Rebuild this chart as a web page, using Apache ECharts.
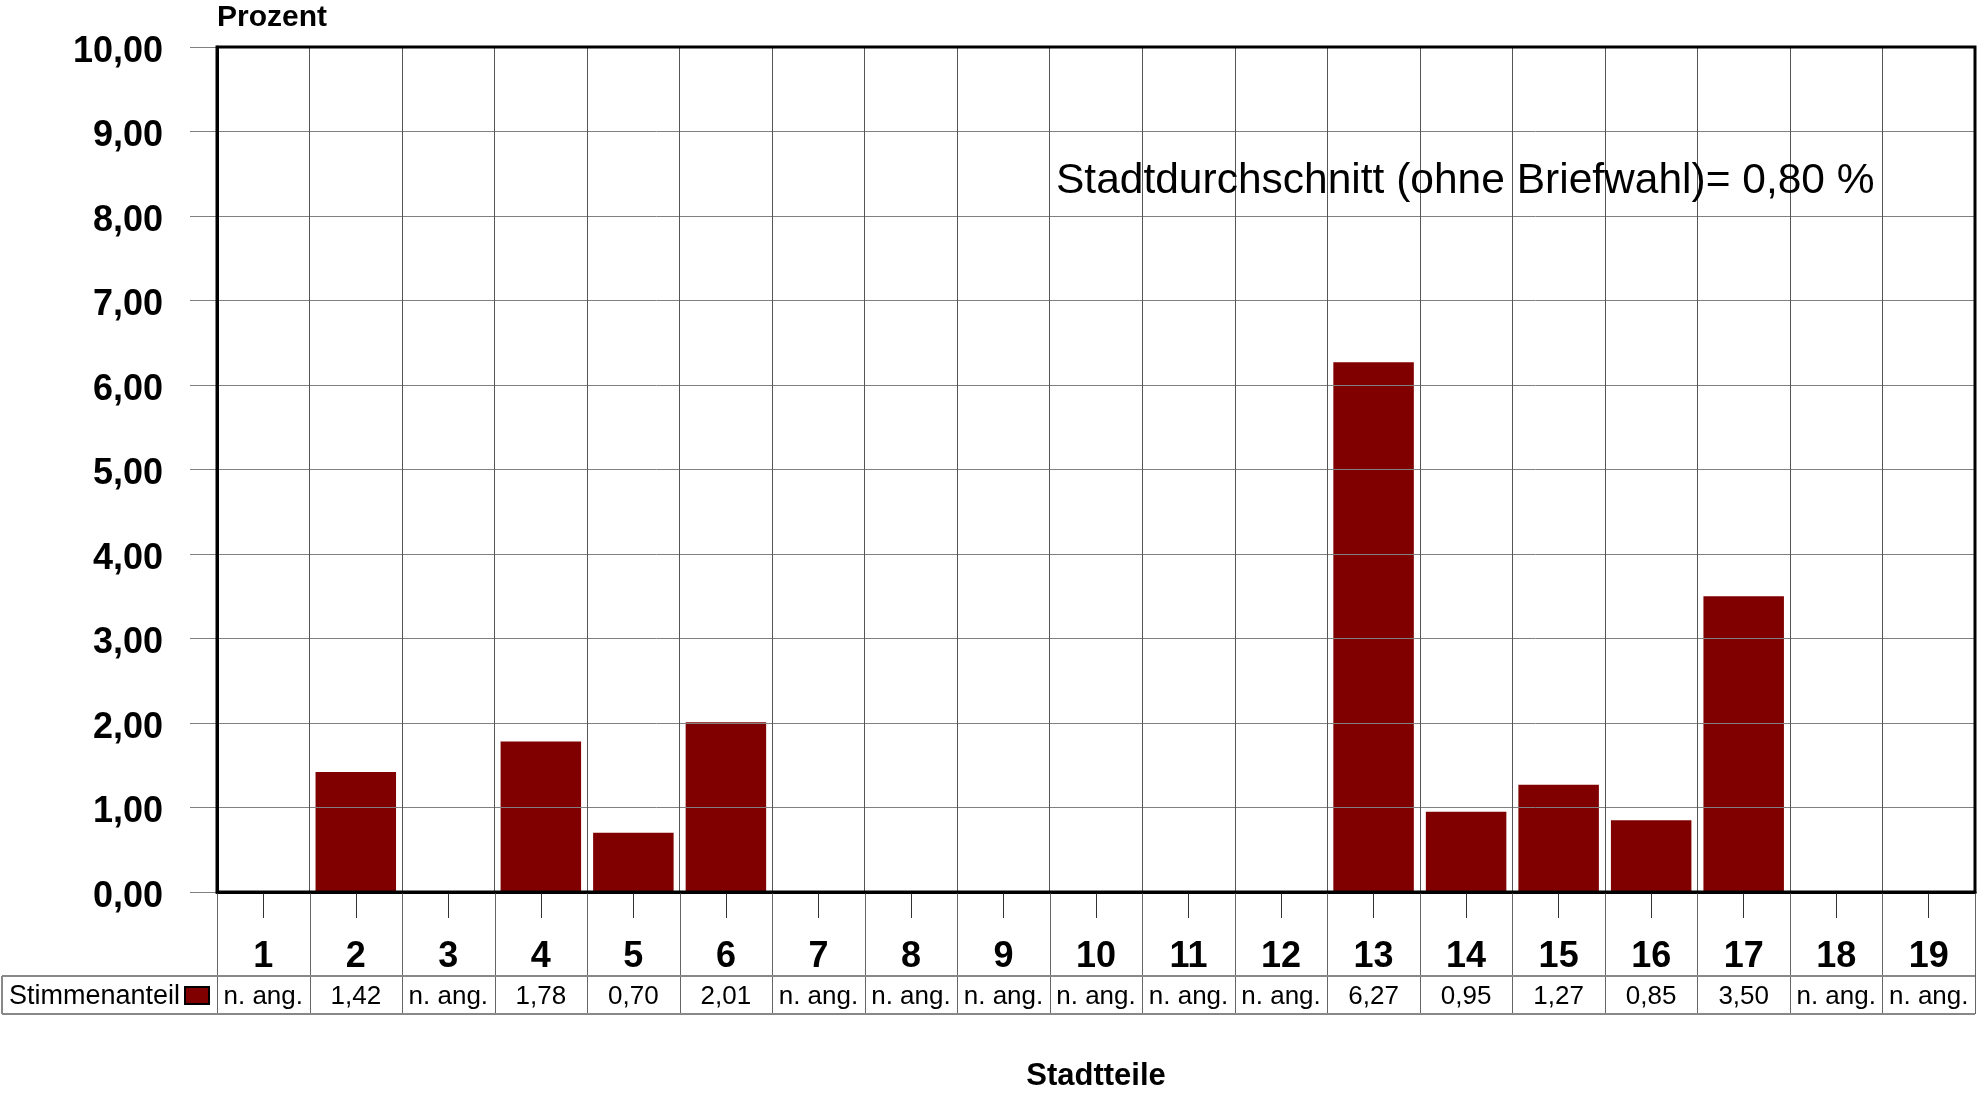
<!DOCTYPE html>
<html>
<head>
<meta charset="utf-8">
<script src="https://cdn.jsdelivr.net/npm/echarts@6/dist/echarts.min.js"></script>
<style>
  html, body { margin: 0; padding: 0; background: #fff; }
  #chart { width: 1977px; height: 1095px; }
</style>
</head>
<body>
<div id="chart"></div>
<script>
// Stadtteile 1-19, Stimmenanteil in Prozent (null = nicht angegeben)
const categories = ['1', '2', '3', '4', '5', '6', '7', '8', '9', '10',
                    '11', '12', '13', '14', '15', '16', '17', '18', '19'];
const shares = [null, 1.42, null, 1.78, 0.70, 2.01, null, null, null, null,
                null, null, 6.27, 0.95, 1.27, 0.85, 3.50, null, null];
const seriesName = 'Stimmenanteil';
const cityAverage = 0.80;
const yMin = 0, yMax = 10, yStep = 1;

const FONT = 'Liberation Sans, Arial, Helvetica, sans-serif';
const BAR_COLOR = '#800000';
const GRID_COLOR = '#808080';

// plot area (px)
const G = { left: 217, top: 47, right: 2, bottom: 203 };
const W = 1977, H = 1095;
const plotBottom = H - G.bottom;
const tableTop = 976, tableBottom = 1014;

const fmt = v => v.toFixed(2).replace('.', ',');

const chart = echarts.init(document.getElementById('chart'), null, { renderer: 'canvas' });

chart.setOption({
  animation: false,
  backgroundColor: '#fff',
  grid: { left: G.left, top: G.top, right: G.right, bottom: G.bottom, containLabel: false },
  xAxis: {
    type: 'category',
    data: categories,
    position: 'bottom',
    z: 5,
    axisLine: { show: true, lineStyle: { color: '#000', width: 3 } },
    axisTick: { show: true, alignWithLabel: true, length: 26, lineStyle: { color: '#333', width: 1 } },
    axisLabel: { margin: 47, fontFamily: FONT, fontWeight: 'bold', fontSize: 36, color: '#000' },
    splitLine: { show: true, lineStyle: { color: '#555', width: 1 } }
  },
  yAxis: {
    type: 'value',
    min: yMin, max: yMax, interval: yStep,
    position: 'left',
    z: 5,
    axisLine: { show: true, lineStyle: { color: '#000', width: 3 } },
    axisTick: { show: true, length: 27, lineStyle: { color: GRID_COLOR, width: 1 } },
    axisLabel: {
      margin: 54,
      formatter: v => '{v|' + fmt(v) + '}',
      rich: { v: { fontFamily: FONT, fontWeight: 'bold', fontSize: 36, color: '#000', padding: [10, 0, 0, 0] } }
    },
    splitLine: { show: true, lineStyle: { color: GRID_COLOR, width: 1 } }
  },
  series: [{
    name: seriesName,
    type: 'bar',
    data: shares,
    barCategoryGap: '13%',
    itemStyle: { color: BAR_COLOR }
  }]
});

// data table below the axis, built from the same arrays
const cx = i => chart.convertToPixel({ xAxisIndex: 0 }, i);
const band = cx(1) - cx(0);
const elements = [];
const line = (x1, y1, x2, y2, color, width) => elements.push({
  type: 'line', z: 10, silent: true,
  shape: { x1, y1, x2, y2 },
  style: { stroke: color, lineWidth: width }
});

// plot frame
elements.push({
  type: 'rect', z: 20, silent: true,
  shape: { x: G.left, y: G.top, width: W - G.left - G.right, height: plotBottom - G.top },
  style: { fill: null, stroke: '#000', lineWidth: 3 }
});

for (let k = 0; k <= categories.length; k++) {
  const x = Math.round(cx(0) - band / 2 + k * band) + 0.5;
  line(x, plotBottom + 1, x, tableBottom, '#666', 1);
}
line(2, tableTop, W - G.right, tableTop, '#888', 2);
line(2, tableBottom, W - G.right, tableBottom, '#888', 2);
line(2, tableTop, 2, tableBottom, '#888', 2);

const rowMid = (tableTop + tableBottom) / 2 + 2;
elements.push({
  type: 'text', z: 10, silent: true,
  style: { x: 9, y: rowMid, text: seriesName, font: '27px ' + FONT, fill: '#000', verticalAlign: 'middle', align: 'left' }
});
elements.push({
  type: 'rect', z: 10, silent: true,
  shape: { x: 185, y: 987, width: 24, height: 17 },
  style: { fill: BAR_COLOR, stroke: '#000', lineWidth: 2 }
});
shares.forEach((v, i) => {
  elements.push({
    type: 'text', z: 10, silent: true,
    style: {
      x: cx(i), y: rowMid,
      text: v == null ? 'n. ang.' : fmt(v),
      font: '26px ' + FONT, fill: '#000', align: 'center', verticalAlign: 'middle'
    }
  });
});

// axis titles and note
elements.push({
  type: 'text', z: 10, silent: true,
  style: { x: 217, y: 18, text: 'Prozent', font: 'bold 30px ' + FONT, fill: '#000', align: 'left', verticalAlign: 'middle' }
});
elements.push({
  type: 'text', z: 10, silent: true,
  style: { x: 1096, y: 1076, text: 'Stadtteile', font: 'bold 31px ' + FONT, fill: '#000', align: 'center', verticalAlign: 'middle' }
});
elements.push({
  type: 'text', z: 10, silent: true,
  style: {
    x: 1056, y: 181,
    text: 'Stadtdurchschnitt (ohne Briefwahl)= ' + fmt(cityAverage) + ' %',
    font: '42.5px ' + FONT, fill: '#000', align: 'left', verticalAlign: 'middle'
  }
});

chart.setOption({ graphic: { elements } });
</script>
</body>
</html>
